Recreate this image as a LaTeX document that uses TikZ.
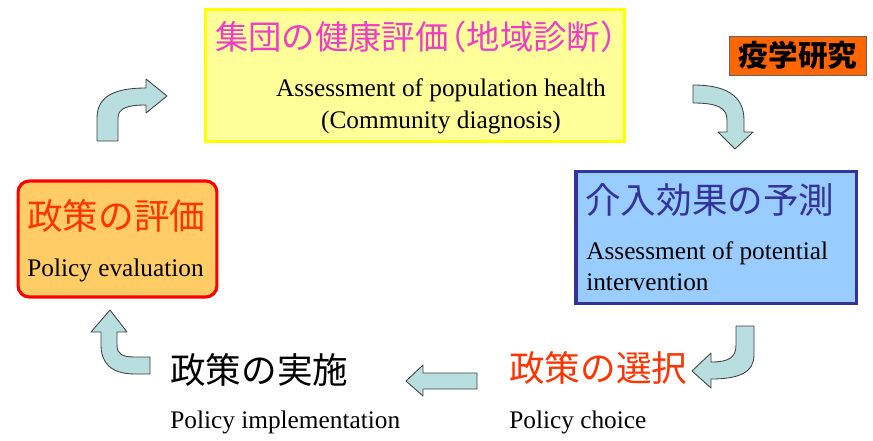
\documentclass[tikz,border=0pt]{standalone}
\usepackage{fontspec}
\setmainfont{Liberation Serif}
\newfontfamily\jpfont{Noto Sans CJK JP}
\usepackage{tikz}
\usetikzlibrary{positioning}
%
\definecolor{arrowfill}{RGB}{184,222,224}
\definecolor{yfill}{RGB}{255,255,153}
\definecolor{yline}{RGB}{255,255,0}
\definecolor{ytitle}{RGB}{240,60,200}
\definecolor{bfill}{RGB}{153,204,255}
\definecolor{bline}{RGB}{51,51,153}
\definecolor{rfill}{RGB}{255,204,102}
\definecolor{rline}{RGB}{255,0,0}
\definecolor{rtitle}{RGB}{255,51,0}
\definecolor{ofill}{RGB}{255,102,0}
%
\tikzset{
  box/.style={rectangle, inner sep=0pt, line width=2.2pt},
  title/.style={anchor=west, inner sep=0pt, font=\jpfont\fontsize{25.3}{30}\selectfont},
  eng/.style={anchor=base west, inner sep=0pt, font=\fontsize{18}{22}\selectfont},
  blockarrow/.style={fill=arrowfill, draw=black!75, line width=0.6pt, line join=round},
}
\begin{document}
\begin{tikzpicture}[x=0.025cm,y=-0.025cm]
%
\useasboundingbox (0,0) rectangle (873,440);
%
% boxes
\node[box, draw=yline, fill=yfill, minimum width=10.45cm, minimum height=3.32cm] (assess) at (415,75.5) {};
\node[box, draw=bline, fill=bfill, minimum width=7cm, minimum height=3.32cm] (predict) at (716,237.5) {};
\node[box, draw=rline, fill=rfill, rounded corners=0.28cm, minimum width=4.97cm, minimum height=2.9cm] (evaluate) at (117.5,239) {};
\node[rectangle, draw=black!60, fill=ofill, line width=0.5pt, minimum width=3.42cm, minimum height=0.97cm,
      font=\jpfont\bfseries\fontsize{21}{24}\selectfont] (epi) at (798,55.5) {疫学研究};
%
% titles
\node[title, text=ytitle, font=\jpfont\fontsize{23.7}{28}\selectfont] (assesst) at (215,37) {集団の健康評価\kern-.45em（地域診断）};
\node[title, text=bline] (predictt) at (585,200) {介入効果の予測};
\node[title, text=rtitle] (evaluatet) at (27,216) {政策の評価};
\node[title, text=black] (implementt) at (170,370) {政策の実施};
\node[title, text=rtitle] (choicet) at (509,368) {政策の選択};
%
% english
\node[eng, anchor=base] (assessa) at (441,97) {Assessment of population health};
\node[eng, anchor=base] (assessb) at (441,128) {(Community diagnosis)};
\node[eng] (predicta) at (586,259) {Assessment of potential};
\node[eng] (predictb) at (586,290) {intervention};
\node[eng] (evaluatea) at (27,276) {Policy evaluation};
\node[eng] (implementa) at (170,428) {Policy implementation};
\node[eng] (choicea) at (509,428) {Policy choice};
%
% arrows
\draw[blockarrow] (97,141) -- (97,118) .. controls (97,96) and (115,88) .. (146,88) -- (146,79) -- (167,96)
  -- (146,113) -- (146,105) .. controls (128,105) and (118,108) .. (118,118) -- (118,141) -- cycle;
\draw[blockarrow] (693,85) .. controls (725,85) and (744,95) .. (744,120) -- (744,132) -- (753,132) -- (735,149)
  -- (718,132) -- (727,132) -- (727,120) .. controls (727,108) and (718,103) .. (693,103) -- cycle;
\draw[blockarrow] (736,326) -- (754,326) -- (754,355) .. controls (754,372) and (740,379) .. (711,379) -- (711,388)
  -- (692,371) -- (711,353) -- (711,362) .. controls (728,362) and (736,358) .. (736,345) -- cycle;
\draw[blockarrow] (477,373) -- (423,373) -- (423,365) -- (406,381) -- (423,396) -- (423,389) -- (477,389) -- cycle;
\draw[blockarrow] (150,357) -- (150,374) -- (135,374) .. controls (110,374) and (101,362) .. (101,345) -- (101,332)
  -- (91,332) -- (110,310) -- (127,332) -- (117,332) -- (117,345) .. controls (117,354) and (122,357) .. (135,357) -- cycle;
%
\end{tikzpicture}
\end{document}
